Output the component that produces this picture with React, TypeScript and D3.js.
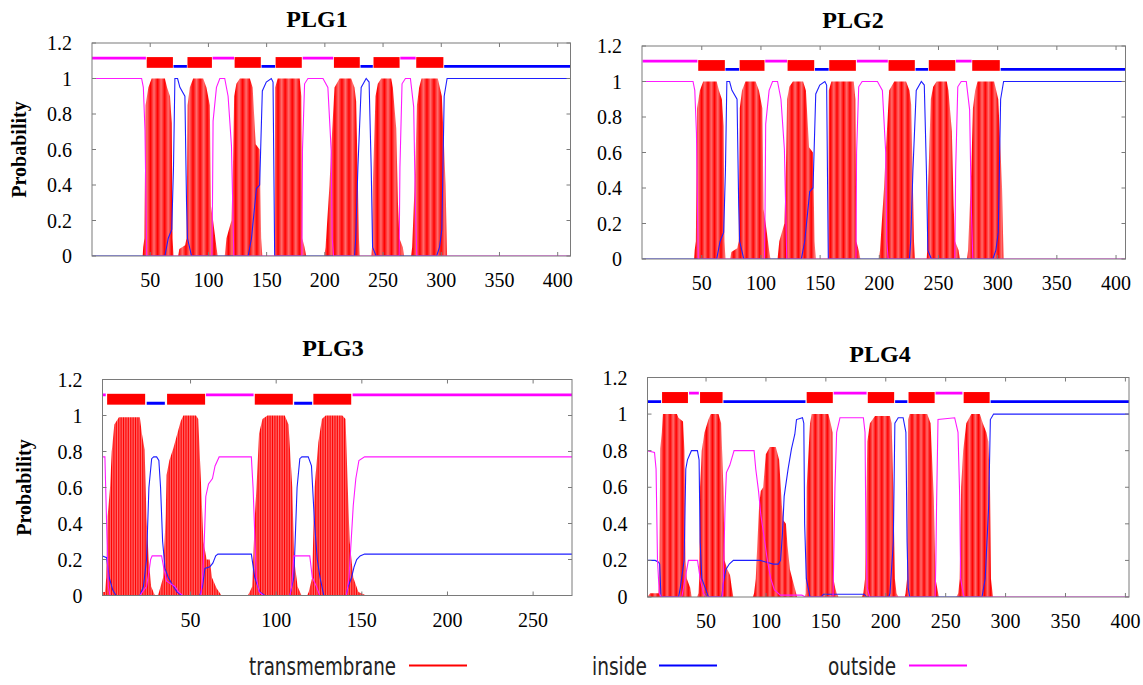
import React from "react";
import * as d3 from "d3";

type Pt = [number, number];
type Seg = [number, number];

const Y_TICKS = [0, 0.2, 0.4, 0.6, 0.8, 1, 1.2];
const X_TICKS_LONG = [50, 100, 150, 200, 250, 300, 350, 400];
const X_TICKS_SHORT = [50, 100, 150, 200, 250];

// level of the topology line on top of each plot
const OUT_LEVEL = 1.115;
const IN_LEVEL = 1.068;

// ---- PLG1 / PLG2 (same prediction) ----
const PLG1_TM_SEG: Seg[] = [[47, 69.5], [82, 103], [122.5, 145], [157.7, 180.2], [207.8, 230], [241.8, 264.2], [278.5, 301.8]];
const PLG1_IN_SEG: Seg[] = [[70, 81.5], [145.6, 157.2], [230.6, 241.2], [302.5, 411]];
const PLG1_OUT_SEG: Seg[] = [[0, 46.3], [103.6, 122], [181, 207.2], [264.8, 278]];

const PLG1_TM: Pt[] = [
  [0, 0], [43.5, 0], [44, 0.05], [45, 0.1], [46, 0.85], [48.4, 0.95], [51.2, 1], [62.6, 1], [64.5, 0.95], [67, 0.9], [68.5, 0.75], [69.2, 0.1], [70, 0],
  [74, 0], [75, 0.04], [80, 0.06], [81.2, 0.1], [82.1, 0.85], [84, 0.95], [86.9, 1], [95.5, 1], [98.3, 0.95], [101.2, 0.85], [102.2, 0.28], [104, 0.2], [106.9, 0.05], [108, 0],
  [114, 0], [115.5, 0.1], [119.8, 0.2], [121.2, 0.55], [122.1, 0.9], [124, 0.97], [127, 1], [135.6, 1], [138, 0.95], [140.6, 0.63], [144, 0.6], [145.3, 0.1], [146.3, 0],
  [156.9, 0], [157.3, 0.95], [159.5, 1], [178.4, 1], [179.8, 0.9], [180.6, 0.1], [182.6, 0.05], [184, 0],
  [199.5, 0], [200.6, 0.05], [204, 0.4], [205.4, 0.6], [208.3, 0.95], [212.6, 1], [222.6, 1], [225.5, 0.95], [226.9, 0.87], [228.4, 0.4], [229.3, 0.1], [230, 0],
  [240, 0], [240.5, 0.05], [241.2, 0.4], [243.5, 0.9], [245.5, 0.97], [248.4, 1], [257, 1], [258.4, 0.95], [261.3, 0.72], [262.8, 0.3], [264, 0.1], [267, 0.05], [268, 0],
  [274, 0], [275, 0.05], [277.7, 0.5], [279.1, 0.85], [281, 0.95], [283, 1], [297, 1], [300.5, 0.9], [302.5, 0.6], [303.7, 0.4], [305, 0], [411, 0],
];
const PLG1_IN: Pt[] = [
  [0, 0], [62.6, 0], [65.5, 0.1], [68.5, 0.15], [70, 0.5], [71.2, 1], [73.5, 1], [75.5, 0.95], [79.8, 0.9], [81.2, 0.3], [82, 0.1], [85.5, 0],
  [134.1, 0], [137, 0.1], [141.2, 0.38], [144, 0.4], [146.3, 0.93], [149.7, 0.98], [154, 1], [155.5, 0.98], [156.9, 0],
  [225.5, 0], [226.5, 0.1], [228.4, 0.5], [231.2, 0.95], [235.5, 1], [238, 0.98], [239.8, 0.5], [241, 0.05], [244, 0],
  [296, 0], [298.5, 0.05], [300.5, 0.15], [302.5, 0.9], [305, 1], [411, 1],
];
const PLG1_OUT: Pt[] = [
  [0, 1], [42.6, 1], [44.1, 0.95], [45.5, 0.71], [47, 0],
  [103, 0], [103.5, 0.3], [104, 0.76], [106.9, 0.95], [109.8, 1], [114, 1], [116.9, 0.9], [119.8, 0.62], [121.8, 0],
  [180.3, 0], [180.8, 0.6], [182.6, 0.97], [185.5, 1], [198.4, 1], [202.6, 0.95], [205.4, 0.6], [206.3, 0.1], [207.5, 0],
  [263.8, 0], [264.5, 0.5], [266.3, 0.97], [269.2, 1], [273.5, 1], [276.3, 0.84], [277.7, 0.3], [279, 0], [411, 0],
];

// ---- PLG3 ----
const PLG3_TM_SEG: Seg[] = [[1.3, 23.5], [36.3, 58.5], [87.5, 109.7], [121.7, 143.8]];
const PLG3_IN_SEG: Seg[] = [[24.4, 35], [110.5, 121]];
const PLG3_OUT_SEG: Seg[] = [[-1.4, 0.5], [59, 86.8], [144.6, 273]];

const PLG3_TM: Pt[] = [
  [-1.4, 0.02], [0, 0.02], [0.8, 0.1], [1.6, 0.44], [3, 0.6], [4, 0.8], [5.5, 0.95], [8.2, 0.99], [20.4, 0.99], [21.6, 0.9], [23.2, 0.81], [24.3, 0.43], [25.6, 0.2], [27, 0.05], [29.2, 0],
  [30.7, 0], [31.6, 0.02], [34, 0.1], [35.5, 0.45], [36, 0.67], [37.6, 0.75], [40, 0.82], [42.3, 0.9], [44.3, 0.97], [45.8, 1], [53.2, 1], [54.5, 0.98], [56.4, 0.56], [57.5, 0.3], [59.4, 0.2], [61.2, 0.2], [62.5, 0.1], [65.2, 0.04], [68.1, 0],
  [83.5, 0], [84.5, 0.02], [86, 0.05], [87.6, 0.45], [88.5, 0.6], [90, 0.9], [92, 0.98], [94.9, 1], [105, 1], [107.2, 0.95], [109.4, 0.6], [110.5, 0.2], [112.5, 0.05], [114.8, 0],
  [118, 0], [119, 0.02], [121, 0.1], [122.4, 0.6], [124.6, 0.85], [126.7, 0.98], [128.9, 1], [138.6, 1], [140.5, 0.98], [141.8, 0.6], [142.9, 0.3], [145, 0.1], [148, 0.02], [152.6, 0], [273, 0],
];
const PLG3_IN: Pt[] = [
  [-1.4, 0.22], [1, 0.21], [2.5, 0.1], [4.6, 0.03], [6.5, 0], [20.4, 0], [22.5, 0.05], [24.3, 0.2], [25.7, 0.6], [27.3, 0.76], [28.5, 0.77], [30.2, 0.77], [31.5, 0.75], [32.5, 0.6], [33.7, 0.3], [35.1, 0.15], [37, 0.1], [40, 0.05], [42, 0.02], [44.7, 0],
  [55.4, 0], [57, 0.05], [58.4, 0.15], [61.3, 0.16], [63, 0.18], [64.7, 0.22], [66, 0.23], [85.5, 0.23], [87.5, 0.1], [90.4, 0.02], [93.3, 0],
  [108, 0], [110.3, 0.1], [112.2, 0.6], [113.8, 0.76], [115, 0.77], [118.7, 0.77], [120.6, 0.72], [122.4, 0.4], [124, 0.2], [125.6, 0.1], [127.8, 0],
  [140.8, 0], [142, 0.05], [144, 0.1], [145.5, 0.16], [147, 0.2], [149, 0.22], [151.6, 0.23], [273, 0.23],
];
const PLG3_OUT: Pt[] = [
  [-1.4, 0.77], [0, 0.77], [1, 0.4], [2, 0.05], [3, 0], [20.4, 0], [24.3, 0.05], [26, 0.15], [26.7, 0.2], [27.6, 0.22], [33.1, 0.22], [34.4, 0.15], [36, 0.08], [40.9, 0.05], [43, 0.02], [45.4, 0],
  [56, 0], [57, 0.1], [58, 0.3], [58.9, 0.55], [60.5, 0.62], [62.8, 0.65], [64.3, 0.72], [66.7, 0.77], [85.5, 0.77], [86.5, 0.6], [88.4, 0.1], [90, 0.02], [92.5, 0],
  [108, 0], [109, 0.05], [110.3, 0.22], [119.6, 0.22], [121.1, 0.1], [123.5, 0.05], [125.4, 0],
  [141, 0], [142.5, 0.1], [145, 0.5], [146.5, 0.65], [148.3, 0.75], [151.6, 0.77], [273, 0.77],
];

// ---- PLG4 ----
const PLG4_TM_SEG: Seg[] = [[13.3, 34.9], [45, 63.8], [134, 155.8], [185, 207], [219, 240.8], [265, 286.7]];
const PLG4_IN_SEG: Seg[] = [[1.2, 12.5], [64.5, 133], [207.8, 218], [287.5, 403]];
const PLG4_OUT_SEG: Seg[] = [[35.8, 44], [156.5, 184], [241.5, 264]];

const PLG4_TM: Pt[] = [
  [1, 0], [3.4, 0.02], [10.4, 0.02], [11, 0.1], [11.8, 0.81], [13.1, 0.9], [14, 1], [25.7, 1], [27, 0.98], [30.8, 0.96], [32, 0.8], [32.9, 0.2], [34, 0.1], [36.8, 0.05], [38, 0],
  [42.5, 0], [43.7, 0.02], [44.3, 0.1], [45.1, 0.6], [46.4, 0.8], [48.7, 0.9], [52, 0.97], [54, 1], [60.4, 1], [62.6, 0.95], [64.5, 0.6], [65.5, 0.2], [67.8, 0.15], [70, 0.12], [71.5, 0.05], [72.8, 0],
  [89, 0], [90.1, 0.02], [91.5, 0.1], [94.3, 0.5], [95.7, 0.58], [97.7, 0.6], [99.9, 0.78], [103.2, 0.82], [108.2, 0.82], [111, 0.75], [113.3, 0.5], [114.5, 0.42], [116.7, 0.4], [118, 0.28], [120, 0.15], [122, 0.1], [124, 0.05], [126, 0],
  [132.5, 0], [133.2, 0.02], [134, 0.6], [136.8, 0.95], [138.2, 1], [152.1, 1], [154, 0.95], [155.6, 0.9], [156.3, 0.1], [157.8, 0.05], [159, 0.02], [160.5, 0],
  [180, 0], [181.3, 0.02], [182.7, 0.1], [184.6, 0.85], [186.8, 0.95], [191, 0.99], [203.5, 0.99], [204.9, 0.95], [206.3, 0.6], [207.6, 0.1], [209, 0.02], [210.5, 0],
  [215.8, 0], [216.5, 0.02], [217.8, 0.1], [218.7, 0.97], [220, 1], [234.6, 1], [237.4, 0.95], [240.1, 0.54], [241.5, 0.1], [242.9, 0.05], [244.3, 0],
  [258.9, 0], [260.5, 0.02], [261.7, 0.1], [262.9, 0.6], [264.6, 0.8], [267.2, 0.95], [271.4, 1], [278.5, 1], [281, 0.95], [284, 0.9], [285.6, 0.85], [287, 0.6], [287.8, 0.1], [289.5, 0], [403, 0],
];
const PLG4_IN: Pt[] = [
  [1, 0.2], [7.6, 0.2], [10.4, 0.19], [11.3, 0.18], [12.4, 0], [27.1, 0], [28.5, 0.05], [31.7, 0.2], [33.1, 0.7], [34.5, 0.75], [37.8, 0.8], [42.8, 0.8], [44.2, 0.75], [45.1, 0.3], [46.5, 0.1], [49.3, 0.05], [52, 0],
  [63.2, 0], [64.5, 0.08], [66.6, 0.15], [69.4, 0.18], [72.8, 0.2], [95, 0.2], [100.6, 0.19], [106.1, 0.18], [110.3, 0.18], [112.2, 0.2], [113.8, 0.35], [115.2, 0.55], [118.5, 0.7], [121.3, 0.81], [124.1, 0.89], [125.5, 0.97], [130.5, 0.98], [131.6, 0.95], [132.3, 0.4], [133.7, 0.1], [136.8, 0],
  [146, 0], [148, 0.015], [182, 0.015], [184, 0], [202.5, 0], [203.5, 0.02], [206.3, 0.3], [207.6, 0.95], [210.4, 0.98], [214.5, 0.98], [216.8, 0.9], [217.8, 0.3], [218.7, 0.05], [220, 0],
  [280.3, 0], [283, 0.1], [285.9, 0.5], [287.3, 0.97], [290, 1], [403, 1],
];
const PLG4_OUT: Pt[] = [
  [1, 0.8], [7, 0.79], [8.3, 0.7], [9.5, 0.2], [11, 0.02], [12.5, 0], [29.8, 0], [32.5, 0.1], [35.3, 0.2], [42.9, 0.2], [45.1, 0.1], [47.9, 0.02], [50, 0],
  [63.8, 0], [64.5, 0.1], [65.9, 0.5], [67, 0.68], [69.8, 0.72], [73.4, 0.8], [90.1, 0.8], [91.5, 0.7], [93.8, 0.58], [95.7, 0.45], [98.4, 0.33], [101.2, 0.2], [104, 0.1], [107, 0.04], [112, 0.01], [130, 0.01], [133, 0],
  [156, 0], [156.8, 0.3], [157.6, 0.6], [159, 0.9], [161.8, 0.98], [181.3, 0.98], [182.7, 0.9], [183.5, 0.3], [184.5, 0.05], [186.6, 0],
  [241.2, 0], [241.8, 0.2], [242.4, 0.5], [243.6, 0.97], [257.5, 0.98], [260.3, 0.9], [261.7, 0.55], [262.5, 0.1], [264.6, 0.02], [265.3, 0], [403, 0],
];

const LEGEND_LABELS = ["transmembrane", "inside", "outside"];

const COLORS = { tm: "#ff0000", tmLight: "#ff7a7a", inside: "#1f1fff", outside: "#ff1aff", frame: "#7a7a7a" };

// layout of each panel (pixels)
const PANELS = [
  { title: "PLG1", l: 92, r: 570.5, t: 43, b: 256, domain: [0, 411], xTicks: X_TICKS_LONG, titleX: 317, titleY: 27, ylab: 18.5,
    tm: PLG1_TM, inside: PLG1_IN, outside: PLG1_OUT, tmSeg: PLG1_TM_SEG, inSeg: PLG1_IN_SEG, outSeg: PLG1_OUT_SEG },
  { title: "PLG2", l: 642, r: 1125.5, t: 46, b: 259, domain: [-0.5, 408], xTicks: X_TICKS_LONG, titleX: 853, titleY: 28, ylab: null,
    tm: PLG1_TM, inside: PLG1_IN, outside: PLG1_OUT, tmSeg: PLG1_TM_SEG, inSeg: PLG1_IN_SEG, outSeg: PLG1_OUT_SEG },
  { title: "PLG3", l: 102.5, r: 572, t: 379.5, b: 595.5, domain: [-1.4, 272.7], xTicks: X_TICKS_SHORT, titleX: 333, titleY: 356, ylab: 24,
    tm: PLG3_TM, inside: PLG3_IN, outside: PLG3_OUT, tmSeg: PLG3_TM_SEG, inSeg: PLG3_IN_SEG, outSeg: PLG3_OUT_SEG },
  { title: "PLG4", l: 647.5, r: 1129, t: 377.5, b: 597, domain: [1.15, 403], xTicks: X_TICKS_LONG, titleX: 880, titleY: 362, ylab: null,
    tm: PLG4_TM, inside: PLG4_IN, outside: PLG4_OUT, tmSeg: PLG4_TM_SEG, inSeg: PLG4_IN_SEG, outSeg: PLG4_OUT_SEG },
];

const SERIF = "'Liberation Serif', 'Times New Roman', serif";
const NARROW = "'Liberation Sans Narrow', 'DejaVu Sans Condensed', sans-serif";

const Panel = ({ p, idx }: { p: (typeof PANELS)[number]; idx: number }) => {
  const x = d3.scaleLinear().domain(p.domain).range([p.l, p.r]);
  const y = d3.scaleLinear().domain([0, 1.2]).range([p.b, p.t]);
  const step = x(1) - x(0);

  const area = d3.area<Pt>().x((d) => x(d[0])).y0(y(0)).y1((d) => y(d[1]));
  const line = d3.line<Pt>().x((d) => x(d[0])).y((d) => y(d[1]));
  const patId = `tmpat${idx}`;
  const clipId = `clip${idx}`;

  const yOut = y(OUT_LEVEL);
  const yIn = y(IN_LEVEL);

  return (
    <g>
      <defs>
        <pattern id={patId} patternUnits="userSpaceOnUse" x={p.l} y={0} width={step} height={700}>
          <rect x={0} y={0} width={step} height={700} fill={COLORS.tmLight} />
          <rect x={0} y={0} width={step * 0.55} height={700} fill={COLORS.tm} />
        </pattern>
        <clipPath id={clipId}>
          <rect x={p.l} y={p.t} width={p.r - p.l} height={p.b - p.t} />
        </clipPath>
      </defs>

      <text x={p.titleX} y={p.titleY} textAnchor="middle" fontFamily={SERIF} fontWeight="bold" fontSize={24}>
        {p.title}
      </text>

      {p.ylab !== null && (
        <text
          transform={`translate(${p.ylab},${(p.t + p.b) / 2}) rotate(-90)`}
          textAnchor="middle"
          dominantBaseline="central"
          fontFamily={SERIF}
          fontWeight="bold"
          fontSize={20}
        >
          Probability
        </text>
      )}

      <g clipPath={`url(#${clipId})`}>
        <path d={area(p.tm) ?? ""} fill={`url(#${patId})`} />
        <path d={line(p.inside) ?? ""} fill="none" stroke={COLORS.inside} strokeWidth={1.1} />
        <path d={line(p.outside) ?? ""} fill="none" stroke={COLORS.outside} strokeWidth={1.1} />

        {/* topology bar */}
        {p.outSeg.map((s, i) => (
          <line key={`o${i}`} x1={x(s[0])} x2={x(s[1])} y1={yOut} y2={yOut} stroke="#ff00ff" strokeWidth={2.8} />
        ))}
        {p.inSeg.map((s, i) => (
          <line key={`i${i}`} x1={x(s[0])} x2={x(s[1])} y1={yIn} y2={yIn} stroke="#0000ff" strokeWidth={2.8} />
        ))}
        {p.tmSeg.map((s, i) => (
          <rect key={`t${i}`} x={x(s[0])} width={x(s[1]) - x(s[0])} y={yOut - 1} height={yIn - yOut + 2.4} fill="#ff0000" />
        ))}
      </g>

      {/* frame and ticks */}
      <rect x={p.l} y={p.t} width={p.r - p.l} height={p.b - p.t} fill="none" stroke={COLORS.frame} strokeWidth={1} />
      {Y_TICKS.map((v) => (
        <g key={`y${v}`}>
          <line x1={p.l} x2={p.l + 4} y1={y(v)} y2={y(v)} stroke={COLORS.frame} />
          <line x1={p.r - 4} x2={p.r} y1={y(v)} y2={y(v)} stroke={COLORS.frame} />
          <text x={p.l - 20} y={y(v)} textAnchor="end" dominantBaseline="central" fontFamily={SERIF} fontSize={20}>
            {d3.format("~g")(v)}
          </text>
        </g>
      ))}
      {p.xTicks.map((v) => (
        <g key={`x${v}`}>
          <line x1={x(v)} x2={x(v)} y1={p.b} y2={p.b - 4} stroke={COLORS.frame} />
          <line x1={x(v)} x2={x(v)} y1={p.t} y2={p.t + 4} stroke={COLORS.frame} />
          <text x={x(v)} y={p.b + 31} textAnchor="middle" fontFamily={SERIF} fontSize={20}>
            {v}
          </text>
        </g>
      ))}
    </g>
  );
};

const LEGEND_LAYOUT = [
  { tx: 249, tw: 147, lx: 409, color: COLORS.tm },
  { tx: 592, tw: 55, lx: 659, color: "#0000ff" },
  { tx: 828, tw: 68, lx: 909, color: "#ff00ff" },
];

export default function App() {
  return (
    <div style={{ position: "absolute", left: 0, top: 0, background: "#fff" }}>
      <svg width={1143} height={685} viewBox="0 0 1143 685">
        <rect width={1143} height={685} fill="#fff" />
        {PANELS.map((p, i) => (
          <Panel key={p.title} p={p} idx={i} />
        ))}
        {LEGEND_LABELS.map((label, i) => {
          const L = LEGEND_LAYOUT[i];
          return (
            <g key={label}>
              <text x={L.tx} y={675} textLength={L.tw} lengthAdjust="spacingAndGlyphs" fontFamily={NARROW} fontSize={25} fill="#222">
                {label}
              </text>
              <line x1={L.lx} x2={L.lx + 58} y1={665.5} y2={665.5} stroke={L.color} strokeWidth={2} />
            </g>
          );
        })}
      </svg>
    </div>
  );
}
